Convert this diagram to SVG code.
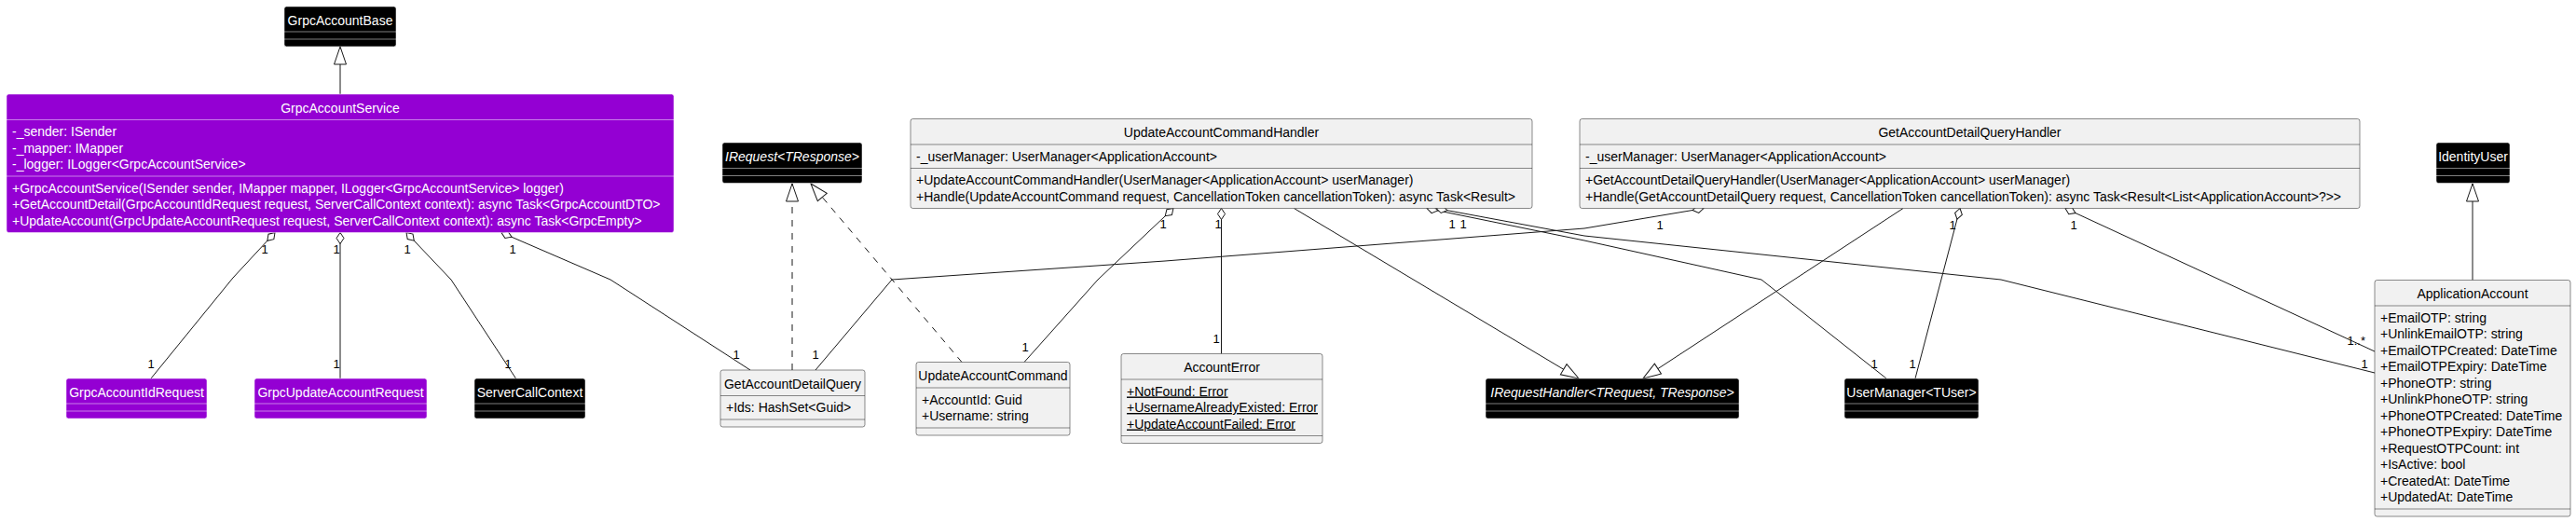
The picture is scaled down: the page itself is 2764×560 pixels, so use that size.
<svg xmlns="http://www.w3.org/2000/svg" width="2764" height="560" viewBox="0 0 2764 560">
<style>
.n{fill:#F1F1F1;stroke:#181818;stroke-width:0.5}
.b{fill:#000000;stroke:#FFFFFF;stroke-width:0.5}
.p{fill:#9400D3;stroke:#FFFFFF;stroke-width:0.5}
.sn{stroke:#181818;stroke-width:0.5}
.sw{stroke:#FFFFFF;stroke-width:0.5}
text{font-family:"Liberation Sans",Arial,sans-serif}
.t{font-size:14px;fill:#000000}
.tw{font-size:14px;fill:#FFFFFF}
.c{text-anchor:middle}
.i{font-style:italic}
.u{text-decoration:underline}
.m{font-size:13px;fill:#000000}
.ln{fill:none;stroke:#181818;stroke-width:1}
.d{stroke-dasharray:7,7}
</style>
<defs>
<marker id="dia" markerUnits="userSpaceOnUse" markerWidth="14" markerHeight="10" refX="0" refY="0" orient="auto" overflow="visible"><path d="M0,0 L6,-4 L12,0 L6,4 Z" fill="#FFFFFF" stroke="#181818" stroke-width="1"/></marker>
<marker id="tri" markerUnits="userSpaceOnUse" markerWidth="20" markerHeight="14" refX="0" refY="0" orient="auto" overflow="visible"><path d="M0,0 L-19,-6.5 L-19,6.5 Z" fill="#FFFFFF" stroke="#181818" stroke-width="1"/></marker>
</defs>
<rect width="2764" height="560" fill="#FFFFFF"/>

<g id="connectors">
<path class="ln" d="M365,101 L365,50" marker-end="url(#tri)"/>
<path class="ln" d="M295,249.5 L250,298 L162,406" marker-start="url(#dia)"/>
<path class="ln" d="M365,249.5 L365,406" marker-start="url(#dia)"/>
<path class="ln" d="M436,249.5 L484,300 L553.5,406" marker-start="url(#dia)"/>
<path class="ln" d="M538,249.5 L655,300 L805,397" marker-start="url(#dia)"/>
<path class="ln d" d="M850,397 L850,197" marker-end="url(#tri)"/>
<path class="ln d" d="M1032,388.5 L870,197" marker-end="url(#tri)"/>
<path class="ln" d="M1259,223.5 L1178,300 L1099,388.5" marker-start="url(#dia)"/>
<path class="ln" d="M1310.5,223.5 L1310.5,379.5" marker-start="url(#dia)"/>
<path class="ln" d="M1388.5,223.5 L1694,406" marker-end="url(#tri)"/>
<path class="ln" d="M1531,223.5 L1700,258 L1890,300 L2024,406" marker-start="url(#dia)"/>
<path class="ln" d="M1541,223.5 L1700,253 L2147,300 L2548,400" marker-start="url(#dia)"/>
<path class="ln" d="M1828,223.5 L1700,245 L1250,280 L957,300 L875,397" marker-start="url(#dia)"/>
<path class="ln" d="M2042,223.5 L1763,406" marker-end="url(#tri)"/>
<path class="ln" d="M2103,223.5 L2055,406" marker-start="url(#dia)"/>
<path class="ln" d="M2216,223.5 L2548,377" marker-start="url(#dia)"/>
<path class="ln" d="M2653,300.5 L2653,197" marker-end="url(#tri)"/>
<text class="m" x="280.5" y="272">1</text>
<text class="m" x="158.5" y="395">1</text>
<text class="m" x="357.5" y="272">1</text>
<text class="m" x="357.5" y="395">1</text>
<text class="m" x="433.5" y="272">1</text>
<text class="m" x="541.5" y="395">1</text>
<text class="m" x="546.5" y="272">1</text>
<text class="m" x="786.5" y="385">1</text>
<text class="m" x="871.5" y="385">1</text>
<text class="m" x="1777.5" y="246">1</text>
<text class="m" x="1244.5" y="245">1</text>
<text class="m" x="1096.5" y="377">1</text>
<text class="m" x="1303.5" y="245">1</text>
<text class="m" x="1301.5" y="368">1</text>
<text class="m" x="1554.5" y="245">1</text>
<text class="m" x="1566.5" y="245">1</text>
<text class="m" x="2007.5" y="395">1</text>
<text class="m" x="2533.5" y="395">1</text>
<text class="m" x="2091.5" y="246">1</text>
<text class="m" x="2048.5" y="395">1</text>
<text class="m" x="2221.5" y="246">1</text>
<text class="m" x="2518.5" y="370">1..*</text>
</g>

<g id="GrpcAccountBase">
<rect class="b" x="305" y="7" width="120" height="43" rx="2.5"/>
<text class="tw c" x="365" y="26.5">GrpcAccountBase</text>
<line class="sw" x1="305" y1="34" x2="425" y2="34"/>
<line class="sw" x1="305" y1="42" x2="425" y2="42"/>
</g>

<g id="GrpcAccountService">
<rect class="p" x="7" y="101" width="716" height="148.5" rx="2.5"/>
<text class="tw c" x="365" y="120.5">GrpcAccountService</text>
<line class="sw" x1="7" y1="128.5" x2="723" y2="128.5"/>
<text class="tw" x="13" y="146">-_sender: ISender</text>
<text class="tw" x="13" y="163.5">-_mapper: IMapper</text>
<text class="tw" x="13" y="181">-_logger: ILogger&lt;GrpcAccountService&gt;</text>
<line class="sw" x1="7" y1="189" x2="723" y2="189"/>
<text class="tw" x="13" y="206.5">+GrpcAccountService(ISender sender, IMapper mapper, ILogger&lt;GrpcAccountService&gt; logger)</text>
<text class="tw" x="13" y="224">+GetAccountDetail(GrpcAccountIdRequest request, ServerCallContext context): async Task&lt;GrpcAccountDTO&gt;</text>
<text class="tw" x="13" y="241.5">+UpdateAccount(GrpcUpdateAccountRequest request, ServerCallContext context): async Task&lt;GrpcEmpty&gt;</text>
</g>

<g id="IRequest">
<rect class="b" x="775" y="153" width="150" height="43.5" rx="2.5"/>
<text class="tw c i" x="850" y="172.5">IRequest&lt;TResponse&gt;</text>
<line class="sw" x1="775" y1="180.5" x2="925" y2="180.5"/>
<line class="sw" x1="775" y1="188.5" x2="925" y2="188.5"/>
</g>

<g id="UpdateAccountCommandHandler">
<rect class="n" x="977" y="127.5" width="667" height="96" rx="2.5"/>
<text class="t c" x="1310.5" y="147">UpdateAccountCommandHandler</text>
<line class="sn" x1="977" y1="155" x2="1644" y2="155"/>
<text class="t" x="983" y="172.5">-_userManager: UserManager&lt;ApplicationAccount&gt;</text>
<line class="sn" x1="977" y1="180.5" x2="1644" y2="180.5"/>
<text class="t" x="983" y="198">+UpdateAccountCommandHandler(UserManager&lt;ApplicationAccount&gt; userManager)</text>
<text class="t" x="983" y="215.5">+Handle(UpdateAccountCommand request, CancellationToken cancellationToken): async Task&lt;Result&gt;</text>
</g>

<g id="GetAccountDetailQueryHandler">
<rect class="n" x="1695" y="127.5" width="837" height="96" rx="2.5"/>
<text class="t c" x="2113.5" y="147">GetAccountDetailQueryHandler</text>
<line class="sn" x1="1695" y1="155" x2="2532" y2="155"/>
<text class="t" x="1701" y="172.5">-_userManager: UserManager&lt;ApplicationAccount&gt;</text>
<line class="sn" x1="1695" y1="180.5" x2="2532" y2="180.5"/>
<text class="t" x="1701" y="198">+GetAccountDetailQueryHandler(UserManager&lt;ApplicationAccount&gt; userManager)</text>
<text class="t" x="1701" y="215.5">+Handle(GetAccountDetailQuery request, CancellationToken cancellationToken): async Task&lt;Result&lt;List&lt;ApplicationAccount&gt;?&gt;&gt;</text>
</g>

<g id="IdentityUser">
<rect class="b" x="2614" y="153" width="79" height="43.5" rx="2.5"/>
<text class="tw c" x="2653.5" y="172.5">IdentityUser</text>
<line class="sw" x1="2614" y1="180.5" x2="2693" y2="180.5"/>
<line class="sw" x1="2614" y1="188.5" x2="2693" y2="188.5"/>
</g>

<g id="ApplicationAccount">
<rect class="n" x="2548" y="300.5" width="210" height="253.5" rx="2.5"/>
<text class="t c" x="2653" y="320">ApplicationAccount</text>
<line class="sn" x1="2548" y1="328" x2="2758" y2="328"/>
<text class="t" x="2554" y="345.5">+EmailOTP: string</text>
<text class="t" x="2554" y="363">+UnlinkEmailOTP: string</text>
<text class="t" x="2554" y="380.5">+EmailOTPCreated: DateTime</text>
<text class="t" x="2554" y="398">+EmailOTPExpiry: DateTime</text>
<text class="t" x="2554" y="415.5">+PhoneOTP: string</text>
<text class="t" x="2554" y="433">+UnlinkPhoneOTP: string</text>
<text class="t" x="2554" y="450.5">+PhoneOTPCreated: DateTime</text>
<text class="t" x="2554" y="468">+PhoneOTPExpiry: DateTime</text>
<text class="t" x="2554" y="485.5">+RequestOTPCount: int</text>
<text class="t" x="2554" y="503">+IsActive: bool</text>
<text class="t" x="2554" y="520.5">+CreatedAt: DateTime</text>
<text class="t" x="2554" y="538">+UpdatedAt: DateTime</text>
<line class="sn" x1="2548" y1="546" x2="2758" y2="546"/>
</g>

<g id="GrpcAccountIdRequest">
<rect class="p" x="71" y="406" width="151" height="43" rx="2.5"/>
<text class="tw c" x="146.5" y="425.5">GrpcAccountIdRequest</text>
<line class="sw" x1="71" y1="433" x2="222" y2="433"/>
<line class="sw" x1="71" y1="441" x2="222" y2="441"/>
</g>

<g id="GrpcUpdateAccountRequest">
<rect class="p" x="273" y="406" width="185" height="43" rx="2.5"/>
<text class="tw c" x="365.5" y="425.5">GrpcUpdateAccountRequest</text>
<line class="sw" x1="273" y1="433" x2="458" y2="433"/>
<line class="sw" x1="273" y1="441" x2="458" y2="441"/>
</g>

<g id="ServerCallContext">
<rect class="b" x="509" y="406" width="119" height="43" rx="2.5"/>
<text class="tw c" x="568.5" y="425.5">ServerCallContext</text>
<line class="sw" x1="509" y1="433" x2="628" y2="433"/>
<line class="sw" x1="509" y1="441" x2="628" y2="441"/>
</g>

<g id="GetAccountDetailQuery">
<rect class="n" x="773" y="397" width="155" height="61" rx="2.5"/>
<text class="t c" x="850.5" y="416.5">GetAccountDetailQuery</text>
<line class="sn" x1="773" y1="424.5" x2="928" y2="424.5"/>
<text class="t" x="779" y="442">+Ids: HashSet&lt;Guid&gt;</text>
<line class="sn" x1="773" y1="450" x2="928" y2="450"/>
</g>

<g id="UpdateAccountCommand">
<rect class="n" x="983" y="388.5" width="165" height="78.5" rx="2.5"/>
<text class="t c" x="1065.5" y="408">UpdateAccountCommand</text>
<line class="sn" x1="983" y1="416" x2="1148" y2="416"/>
<text class="t" x="989" y="433.5">+AccountId: Guid</text>
<text class="t" x="989" y="451">+Username: string</text>
<line class="sn" x1="983" y1="459" x2="1148" y2="459"/>
</g>

<g id="AccountError">
<rect class="n" x="1203" y="379.5" width="216" height="96" rx="2.5"/>
<text class="t c" x="1311" y="399">AccountError</text>
<line class="sn" x1="1203" y1="407" x2="1419" y2="407"/>
<text class="t u" x="1209" y="424.5">+NotFound: Error</text>
<text class="t u" x="1209" y="442">+UsernameAlreadyExisted: Error</text>
<text class="t u" x="1209" y="459.5">+UpdateAccountFailed: Error</text>
<line class="sn" x1="1203" y1="467.5" x2="1419" y2="467.5"/>
</g>

<g id="IRequestHandler">
<rect class="b" x="1594" y="406" width="272" height="43" rx="2.5"/>
<text class="tw c i" x="1730" y="425.5">IRequestHandler&lt;TRequest, TResponse&gt;</text>
<line class="sw" x1="1594" y1="433" x2="1866" y2="433"/>
<line class="sw" x1="1594" y1="441" x2="1866" y2="441"/>
</g>

<g id="UserManager">
<rect class="b" x="1979" y="406" width="144" height="43" rx="2.5"/>
<text class="tw c" x="2051" y="425.5">UserManager&lt;TUser&gt;</text>
<line class="sw" x1="1979" y1="433" x2="2123" y2="433"/>
<line class="sw" x1="1979" y1="441" x2="2123" y2="441"/>
</g>
</svg>
